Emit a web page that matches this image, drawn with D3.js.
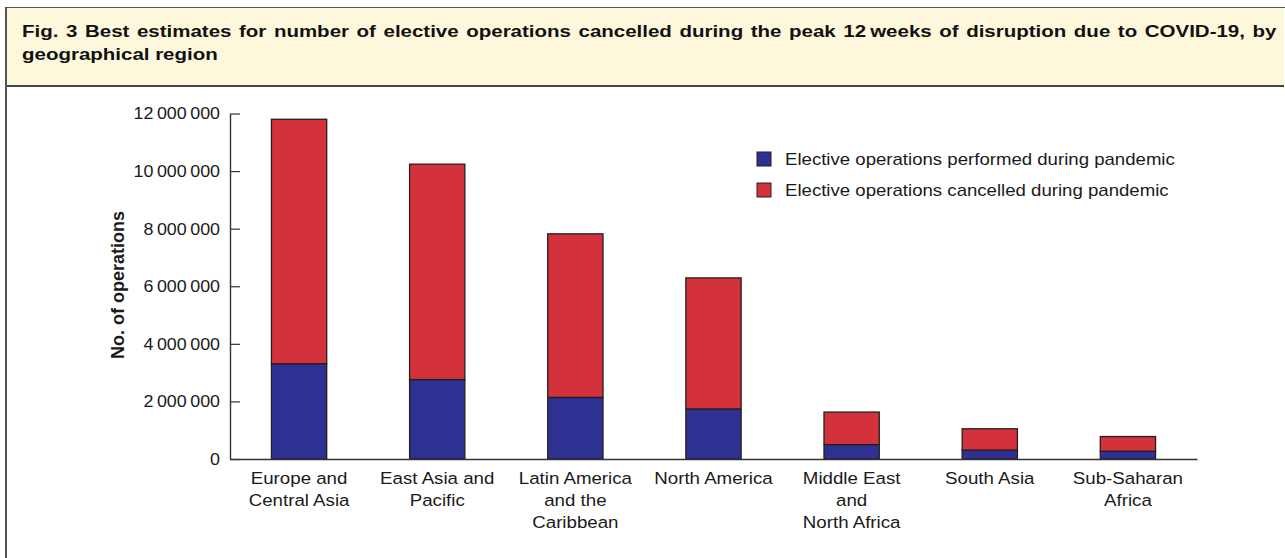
<!DOCTYPE html>
<html>
<head>
<meta charset="utf-8">
<script src="https://cdn.jsdelivr.net/npm/d3@7"></script>
<style>
  body{margin:0;background:#fff;font-family:"Liberation Sans",Arial,sans-serif;}
  #wrap{position:relative;width:1285px;height:558px;overflow:hidden;}
  #frame{position:absolute;left:5px;top:7px;width:1290px;height:560px;border-left:2px solid #555;border-top:1px solid #555;}
  #title{position:absolute;left:7px;top:8px;width:1256px;height:65px;padding:12px 6px 0 15px;
    background:#fdf8dc;border-bottom:2px solid #444;}
  #title .txt{width:980px;transform:scaleX(1.28);transform-origin:0 0;
    font-weight:bold;font-size:16px;line-height:23px;color:#111;}
  #title .l1{text-align:justify;text-align-last:justify;white-space:nowrap;}
  svg{position:absolute;left:0;top:0;}
</style>
</head>
<body>
<div id="wrap">
  <div id="frame"></div>
  <div id="title"><div class="txt"></div></div>
  <svg></svg>
</div>
<script>
var titleLines = ['Fig. 3 Best estimates for number of elective operations cancelled during the peak 12\u2009weeks of disruption due to COVID-19, by',
    'geographical region'];

var regions = ['Europe and\nCentral Asia', 'East Asia and\nPacific', 'Latin America\nand the\nCaribbean',
    'North America', 'Middle East\nand\nNorth Africa', 'South Asia', 'Sub-Saharan\nAfrica'];
// operations, in millions
var performed = [3.31, 2.76, 2.14, 1.74, 0.50, 0.31, 0.27];
var cancelled = [8.49, 7.48, 5.68, 4.55, 1.13, 0.74, 0.51];
var seriesNames = ['Elective operations performed during pandemic', 'Elective operations cancelled during pandemic'];
var seriesColors = ['#2e3192', '#d3313c'];
var yTicks = [0, 2000000, 4000000, 6000000, 8000000, 10000000, 12000000];

var width = 1285,
    height = 558;

d3.select('#title .txt').selectAll('div')
    .data(titleLines)
    .join('div')
    .attr('class', function(d, i){ return 'l' + (i + 1); })
    .text(function(d){ return d; });

var svg = d3.select('svg')
    .attr('width', width)
    .attr('height', height)
    .style('font-family', '"Liberation Sans", Arial, sans-serif');

var rows = regions.map(function(r, i){
    return {region: r, performed: performed[i] * 1e6, cancelled: cancelled[i] * 1e6};
});
var keys = ['performed', 'cancelled'];
var stacked = d3.stack().keys(keys)(rows);

var x = d3.scaleBand()
    .domain(regions)
    .range([230, 1197])
    .paddingInner(0.6)
    .paddingOuter(0.3);
var y = d3.scaleLinear()
    .domain([0, 12000000])
    .range([459, 113.5]);

function fmt(v){
    return d3.format(',')(v).replace(/,/g, '\u2009');
}

// y axis, ticks point inward
var yAxis = svg.append('g')
    .attr('transform', 'translate(230,0)')
    .call(d3.axisLeft(y).tickValues(yTicks).tickFormat(fmt).tickSizeInner(-10).tickSizeOuter(0).tickPadding(10));
yAxis.select('.domain').attr('stroke', '#333').attr('stroke-width', 1.4);
yAxis.selectAll('.tick line').attr('stroke', '#333').attr('stroke-width', 1.2);
yAxis.selectAll('.tick text')
    .attr('x', 0)
    .attr('transform', 'translate(-10,0) scale(1.05,1)')
    .attr('fill', '#1a1a1a')
    .style('font-size', '17px')
    .style('font-family', '"Liberation Sans", Arial, sans-serif');

// bars
svg.append('g')
    .selectAll('g')
    .data(stacked)
    .join('g')
    .attr('fill', function(d, i){ return seriesColors[i]; })
    .selectAll('rect')
    .data(function(d){ return d; })
    .join('rect')
    .attr('x', function(d){ return x(d.data.region); })
    .attr('y', function(d){ return y(d[1]); })
    .attr('width', x.bandwidth())
    .attr('height', function(d){ return y(d[0]) - y(d[1]); })
    .attr('stroke', '#231f20')
    .attr('stroke-width', 1.3);

// x axis
var xAxis = svg.append('g')
    .attr('transform', 'translate(0,459)')
    .call(d3.axisBottom(x).tickSize(0).tickFormat(''));
xAxis.select('.domain').attr('stroke', '#333').attr('stroke-width', 1.4);

xAxis.selectAll('.tick').each(function(d){
    var t = d3.select(this).append('text')
        .attr('fill', '#1a1a1a')
        .attr('text-anchor', 'middle')
        .attr('transform', 'scale(1.1,1)')
        .style('font-size', '17px')
        .style('font-family', '"Liberation Sans", Arial, sans-serif');
    d.split('\n').forEach(function(line, j){
        t.append('tspan').attr('x', 0).attr('y', 25 + j * 22).text(line);
    });
});

// y axis title
svg.append('text')
    .attr('transform', 'translate(124,285) rotate(-90)')
    .attr('text-anchor', 'middle')
    .style('font-size', '18px')
    .style('font-weight', 'bold')
    .attr('fill', '#1a1a1a')
    .text('No. of operations');

// legend
var legend = svg.append('g')
    .selectAll('g')
    .data(seriesNames)
    .join('g')
    .attr('transform', function(d, i){ return 'translate(757,' + (152 + i * 31) + ')'; });
legend.append('rect')
    .attr('width', 14)
    .attr('height', 14)
    .attr('fill', function(d, i){ return seriesColors[i]; })
    .attr('stroke', '#231f20')
    .attr('stroke-width', 1);
legend.append('text')
    .attr('transform', 'translate(28,13) scale(1.095,1)')
    .style('font-size', '17px')
    .attr('fill', '#1a1a1a')
    .text(function(d){ return d; });
</script>
</body>
</html>
